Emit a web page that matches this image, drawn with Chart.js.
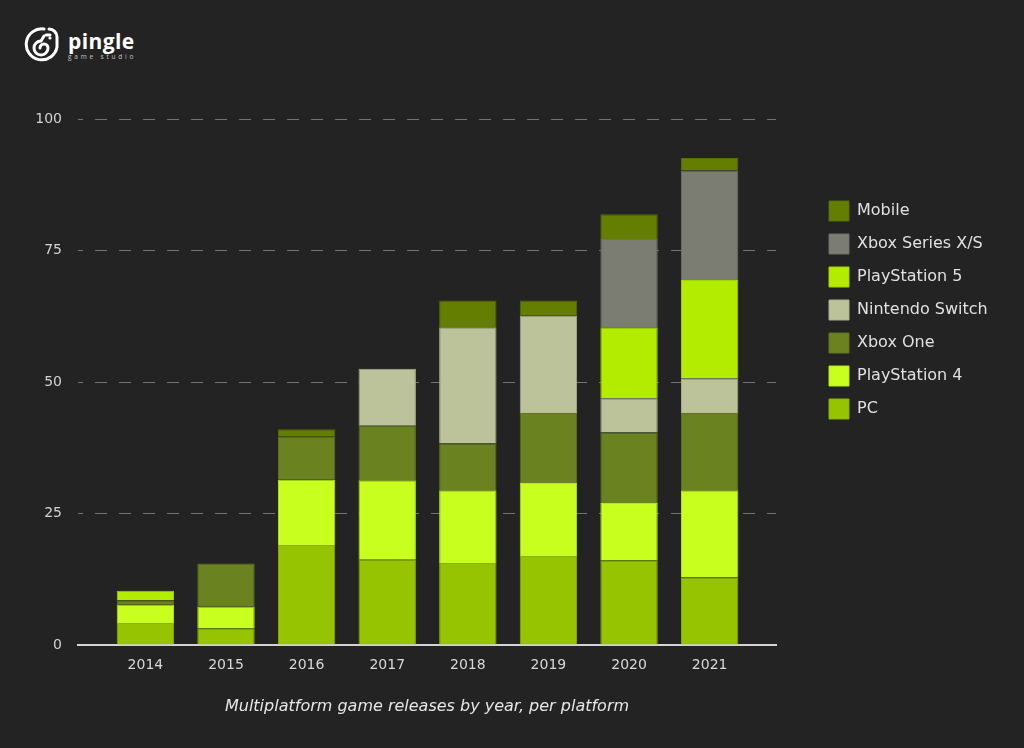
<!DOCTYPE html>
<html>
<head>
<meta charset="utf-8">
<script src="https://cdn.jsdelivr.net/npm/chart.js@4.4.1/dist/chart.umd.min.js"></script>
<style>
  html, body { margin: 0; padding: 0; background: #232323; }
  #wrap { position: relative; width: 1024px; height: 748px; overflow: hidden; }
  #bar-chart { position: absolute; left: 0; top: 0; }
  .logo { position: absolute; left: 24px; top: 26px; display: flex; align-items: center; }
  .logo .name { margin-left: 8px; color: #fff; font-family: "Open Sans", sans-serif; }
  .logo .big { font-size: 21px; font-weight: 700; line-height: 22px; letter-spacing: 0.4px; }
  .logo .small { font-size: 6.5px; letter-spacing: 2.8px; color: #c4c4c4; line-height: 8px; margin-top: 1px; }
</style>
</head>
<body>
<div id="wrap">
  <div class="logo">
    <svg width="36" height="38" viewBox="0 0 36 38">
      <g fill="none" stroke="#fff" stroke-width="3" stroke-linecap="round">
        <path d="M20 3 A15.5 15.5 0 1 0 33 21 L33 11 A8 8 0 0 0 25 3"/>
        <path d="M20 10 L17 15 A7 7 0 1 0 24 22 A4 4 0 1 0 16 22"/>
        <path d="M22 9 L26 9"/>
      </g>
      <circle cx="26" cy="12" r="1.6" fill="#fff"/>
    </svg>
    <div class="name">
      <div class="big">pingle</div>
      <div class="small">game studio</div>
    </div>
  </div>
  <canvas id="bar-chart" width="1024" height="748"></canvas>
</div>
<script>
const years = [2014, 2015, 2016, 2017, 2018, 2019, 2020, 2021];
const yTicks = [0, 25, 50, 75, 100];

const pc = [4.2, 3.2, 19.0, 16.2, 15.6, 16.9, 16.1, 12.9];
const ps4 = [3.5, 4.1, 12.4, 15.1, 13.8, 13.9, 10.9, 16.5];
const xboxOne = [0.8, 8.2, 8.2, 10.4, 8.9, 13.3, 13.4, 14.7];
const nintendoSwitch = [null, null, null, 10.8, 22.1, 18.5, 6.5, 6.6];
const ps5 = [1.8, null, null, null, null, null, 13.5, 18.7];
const xboxSeries = [null, null, null, null, null, null, 16.8, 20.8];
const mobile = [null, null, 1.4, null, 5.1, 2.9, 4.7, 2.4];

const toPoints = (values) => years.map((year, i) => ({ x: year, y: values[i] }));

const makeSet = (label, values, color, border) => ({
  label: label,
  data: toPoints(values),
  backgroundColor: color,
  borderColor: border,
  borderWidth: 1,
  categoryPercentage: 0.8,
  barPercentage: 0.89,
});

const data = {
  datasets: [
    makeSet("PC", pc, "#97c400", "#8ab300"),
    makeSet("PlayStation 4", ps4, "#c8ff1f", "#b6e81c"),
    makeSet("Xbox One", xboxOne, "#6b8220", "#5f741c"),
    makeSet("Nintendo Switch", nintendoSwitch, "#bcc29a", "#aab08a"),
    makeSet("PlayStation 5", ps5, "#b4ec00", "#a3d600"),
    makeSet("Xbox Series X/S", xboxSeries, "#7c7d72", "#6f7066"),
    makeSet("Mobile", mobile, "#637e00", "#566e00"),
  ],
};

// keep the legend box off the plot and a bit lower, like the original
const legendPlace = {
  id: "legendPlace",
  beforeInit(chart) {
    const legend = chart.legend;
    const fit = legend.fit;
    legend.fit = function () {
      fit.call(this);
      this.width = 248;
    };
  },
  afterLayout(chart) {
    const legend = chart.legend;
    legend.left += 40;
    legend.right += 40;
    legend.top += 69;
    legend.bottom += 69;
  },
};

Chart.defaults.font.family = "'DejaVu Sans', sans-serif";
Chart.defaults.color = "#d6d6d6";

const config = {
  type: "bar",
  data: data,
  options: {
    responsive: false,
    animation: false,
    layout: {
      padding: { left: 30, top: 119, right: 0, bottom: 10 },
    },
    scales: {
      x: {
        type: "linear",
        stacked: true,
        offset: false,
        min: 2013.164,
        max: 2021.823,
        afterBuildTicks: (scale) => {
          scale.ticks = years.map((y) => ({ value: y }));
        },
        afterFit: (scale) => {
          scale.height = 93;
        },
        ticks: {
          padding: 12,
          color: "#d8d8d8",
          font: { size: 14 },
          callback: (value) => String(value),
        },
        grid: { display: false, drawTicks: false },
        border: { display: true, color: "#d4d4d4", width: 2 },
        title: {
          display: true,
          text: "Multiplatform game releases by year, per platform",
          color: "#e6e6e6",
          font: { size: 16, style: "italic" },
          padding: { top: 4, bottom: 22 },
        },
      },
      y: {
        stacked: true,
        min: 0,
        max: 100,
        afterBuildTicks: (scale) => {
          scale.ticks = yTicks.map((v) => ({ value: v }));
        },
        afterFit: (scale) => {
          scale.width = 48;
        },
        ticks: {
          padding: 16,
          color: "#d2d2d2",
          font: { size: 14 },
        },
        grid: {
          color: "#747474",
          lineWidth: 1,
          drawTicks: false,
        },
        border: { display: false, dash: [12, 12], dashOffset: 7 },
      },
    },
    plugins: {
      legend: {
        display: true,
        position: "right",
        align: "start",
        reverse: true,
        labels: {
          boxWidth: 20,
          boxHeight: 20,
          padding: 13,
          color: "#e0e0e0",
          font: { size: 16 },
        },
      },
      tooltip: { enabled: false },
    },
  },
  plugins: [legendPlace],
};

let ctx = document.getElementById("bar-chart");
const stackedBar = new Chart(ctx, config);
</script>
</body>
</html>
